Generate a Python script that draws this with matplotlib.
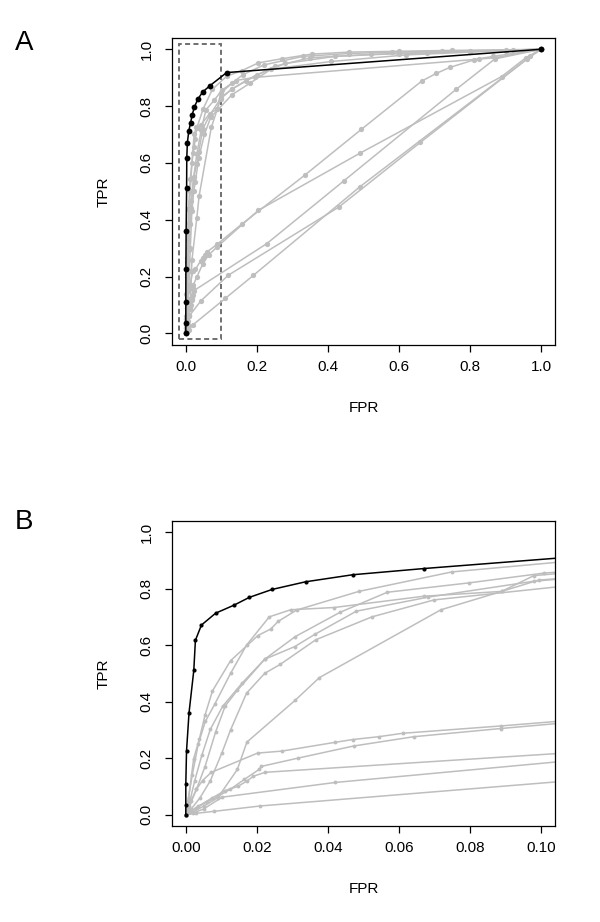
import numpy as np
import matplotlib
matplotlib.use("Agg")
import matplotlib.pyplot as plt
from matplotlib.patches import Rectangle

plt.rcParams['font.family'] = ['Liberation Sans', 'DejaVu Sans']

# ---- data: ROC curves (FPR, TPR) ----
# best method (black)
black_fpr = [0, 0, 0, 0.0002, 0.0009, 0.00225, 0.0027, 0.0044, 0.0084, 0.0135,
             0.0179, 0.0243, 0.0337, 0.047, 0.0671, 0.115, 1.0]
black_tpr = [0, 0.036, 0.109, 0.225, 0.36, 0.511, 0.617, 0.671, 0.713, 0.741,
             0.769, 0.797, 0.824, 0.849, 0.871, 0.918, 1.0]

# other methods (grey), high group
h1_fpr = [0, 0.0008, 0.0022, 0.0038, 0.0054, 0.0075, 0.0126, 0.0203, 0.0239, 0.026, 0.0312,
          0.0487, 0.0749, 0.115, 0.158, 0.204, 0.272, 0.355, 0.46, 0.6, 0.75, 0.9, 1.0]
h1_tpr = [0, 0.06, 0.198, 0.267, 0.352, 0.438, 0.545, 0.634, 0.657, 0.684, 0.724,
          0.79, 0.859, 0.905, 0.925, 0.952, 0.967, 0.983, 0.99, 0.993, 0.996, 0.998, 1.0]

h2_fpr = [0, 0.001, 0.0025, 0.0045, 0.0069, 0.0104, 0.0158, 0.0222, 0.0308, 0.0434, 0.0567,
          0.0796, 0.1009, 0.14, 0.195, 0.87, 1.0]
h2_tpr = [0, 0.04, 0.12, 0.21, 0.302, 0.384, 0.465, 0.55, 0.63, 0.716, 0.787,
          0.82, 0.855, 0.89, 0.901, 0.97, 1.0]

h3_fpr = [0, 0.0006, 0.0018, 0.0035, 0.0055, 0.0081, 0.0126, 0.0171, 0.0235, 0.0295, 0.0417,
          0.067, 0.0889, 0.0993, 0.13, 0.2, 0.28, 0.42, 0.6, 0.8, 1.0]
h3_tpr = [0, 0.05, 0.14, 0.25, 0.33, 0.39, 0.5, 0.6, 0.7, 0.725, 0.733,
          0.773, 0.79, 0.83, 0.86, 0.91, 0.95, 0.975, 0.985, 0.993, 1.0]

h4_fpr = [0, 0.001, 0.003, 0.0054, 0.0084, 0.0111, 0.0145, 0.0222, 0.0307, 0.0363, 0.048,
          0.0683, 0.0979, 0.13, 0.17, 0.25, 0.35, 0.52, 0.68, 0.9, 1.0]
h4_tpr = [0, 0.03, 0.09, 0.17, 0.293, 0.385, 0.44, 0.55, 0.595, 0.638, 0.72,
          0.77, 0.826, 0.86, 0.89, 0.94, 0.97, 0.982, 0.988, 0.995, 1.0]

h5_fpr = [0, 0.0015, 0.004, 0.0069, 0.0102, 0.0126, 0.0171, 0.0222, 0.0266, 0.0366, 0.0524,
          0.0699, 0.13, 0.18, 0.24, 0.41, 0.62, 0.8, 1.0]
h5_tpr = [0, 0.02, 0.06, 0.12, 0.22, 0.3, 0.43, 0.5, 0.532, 0.619, 0.7,
          0.76, 0.84, 0.88, 0.93, 0.957, 0.98, 0.99, 1.0]

h6_fpr = [0, 0.002, 0.005, 0.009, 0.0145, 0.0172, 0.0308, 0.0376, 0.0718, 0.0889, 0.098,
          0.13, 0.16, 0.22, 0.33, 0.46, 0.58, 0.72, 0.92, 1.0]
h6_tpr = [0, 0.01, 0.03, 0.06, 0.16, 0.257, 0.405, 0.485, 0.725, 0.79, 0.846,
          0.88, 0.91, 0.945, 0.975, 0.985, 0.99, 0.993, 0.997, 1.0]

# other methods (grey), low group
la_fpr = [0, 0.0005, 0.0015, 0.003, 0.0047, 0.0072, 0.0202, 0.027, 0.042, 0.047, 0.0543,
          0.061, 0.0887, 0.157, 0.335, 0.494, 0.664, 0.705, 0.743, 0.81, 0.826, 0.866, 1.0]
la_tpr = [0, 0.02, 0.05, 0.09, 0.121, 0.15, 0.218, 0.225, 0.256, 0.266, 0.276,
          0.288, 0.314, 0.384, 0.557, 0.718, 0.888, 0.915, 0.936, 0.962, 0.967, 0.975, 1.0]

lb_fpr = [0, 0.001, 0.003, 0.006, 0.009, 0.0125, 0.0165, 0.0206, 0.0213, 0.0315, 0.0472,
          0.0642, 0.0887, 0.204, 0.49, 0.889, 0.957, 1.0]
lb_tpr = [0, 0.01, 0.025, 0.045, 0.065, 0.09, 0.125, 0.16, 0.171, 0.2, 0.243,
          0.276, 0.305, 0.433, 0.634, 0.904, 0.97, 1.0]

lc_fpr = [0, 0.001, 0.0035, 0.0075, 0.011, 0.0146, 0.0172, 0.019, 0.0223, 0.228, 0.445,
          0.761, 0.87, 1.0]
lc_tpr = [0, 0.008, 0.03, 0.06, 0.085, 0.1, 0.119, 0.136, 0.15, 0.316, 0.537,
          0.859, 0.966, 1.0]

ld_fpr = [0, 0.002, 0.005, 0.0102, 0.042, 0.12, 0.43, 0.66, 0.96, 1.0]
ld_tpr = [0, 0.006, 0.02, 0.062, 0.114, 0.205, 0.444, 0.672, 0.965, 1.0]

le_fpr = [0, 0.003, 0.008, 0.021, 0.111, 0.19, 0.49, 0.97, 1.0]
le_tpr = [0, 0.005, 0.012, 0.031, 0.123, 0.204, 0.516, 0.975, 1.0]

grey_curves = [(h1_fpr, h1_tpr), (h2_fpr, h2_tpr), (h3_fpr, h3_tpr), (h4_fpr, h4_tpr),
               (h5_fpr, h5_tpr), (h6_fpr, h6_tpr), (la_fpr, la_tpr), (lb_fpr, lb_tpr),
               (lc_fpr, lc_tpr), (ld_fpr, ld_tpr), (le_fpr, le_tpr)]

grey = '#BEBEBE'

fig = plt.figure(figsize=(6, 9.22), dpi=100)
axA = fig.add_axes([0.286, 0.6261, 0.6395, 0.3328])
axB = fig.add_axes([0.286, 0.1041, 0.6395, 0.3311])


def style_axes(ax, xlim, xticks, xlabels):
    ax.set_xlim(*xlim)
    ax.set_ylim(-0.04, 1.04)
    ax.set_xticks(xticks)
    ax.set_xticklabels(xlabels)
    yt = [0, 0.2, 0.4, 0.6, 0.8, 1.0]
    ax.set_yticks(yt)
    ax.set_yticklabels(['%.1f' % v for v in yt], rotation=90, va='center')
    ax.tick_params(direction='out', length=5, width=0.9, labelsize=11)
    ax.tick_params(axis='x', pad=6)
    ax.tick_params(axis='y', pad=8)
    for s in ax.spines.values():
        s.set_linewidth(0.9)
    ax.set_xlabel('FPR', fontsize=11, va='center')
    ax.set_ylabel('TPR', fontsize=11, va='center')
    ax.xaxis.set_label_coords(0.5, -0.205)
    ax.yaxis.set_label_coords(-0.176, 0.5)


# ---- panel A ----
for fx, ty in grey_curves:
    axA.plot(fx, ty, '-o', color=grey, lw=1.1, ms=3.8, mew=0)
axA.plot(black_fpr, black_tpr, '-o', color='black', lw=1.1, ms=4.2, mew=0)
axA.add_patch(Rectangle((-0.02, -0.02), 0.12, 1.04, fill=False, ec='#707070',
                        lw=1.4, ls=(0, (2.6, 1.7))))
style_axes(axA, (-0.04, 1.04), [0, 0.2, 0.4, 0.6, 0.8, 1.0],
           ['0.0', '0.2', '0.4', '0.6', '0.8', '1.0'])

# ---- panel B (zoom on FPR <= 0.1) ----
for fx, ty in grey_curves:
    axB.plot(fx, ty, '-o', color=grey, lw=1.1, ms=2.8, mew=0)
axB.plot(black_fpr, black_tpr, '-o', color='black', lw=1.1, ms=3.0, mew=0)
style_axes(axB, (-0.004, 0.104), [0, 0.02, 0.04, 0.06, 0.08, 0.10],
           ['0.00', '0.02', '0.04', '0.06', '0.08', '0.10'])

fig.text(0.04, 1 - 43 / 922, 'A', fontsize=20, ha='center', va='center')
fig.text(0.04, 1 - 522 / 922, 'B', fontsize=20, ha='center', va='center')

fig.savefig('out.png', dpi=100)
